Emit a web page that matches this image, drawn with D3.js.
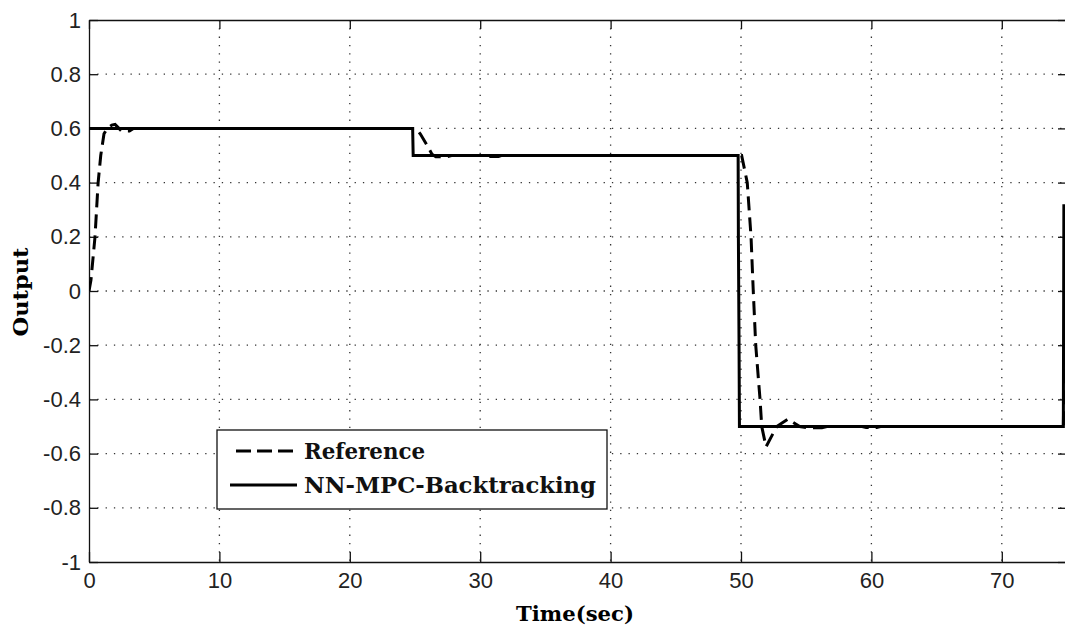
<!DOCTYPE html>
<html>
<head>
<meta charset="utf-8">
<script src="https://cdn.jsdelivr.net/npm/d3@7"></script>
<style>
  html, body { margin: 0; padding: 0; background: #fff; }
  svg { display: block; }
</style>
</head>
<body>
<svg id="chart" width="1065" height="627"></svg>
<script>
// Axis ticks
const xTicks = [0, 10, 20, 30, 40, 50, 60, 70];
const yTicks = [-1, -0.8, -0.6, -0.4, -0.2, 0, 0.2, 0.4, 0.6, 0.8, 1];

// Series: time (s) and output value
const refTime = [0, 0.15, 0.46, 0.7, 0.9, 1.15, 1.4, 1.75, 2.0, 2.3, 2.5, 3.1, 3.4,
  25.1, 25.4, 25.9, 26.3, 26.6, 27.4, 27.8, 30.4, 30.6, 31.4, 31.6,
  50.05, 50.48, 50.77, 50.94, 51.13, 51.46, 51.59, 51.92, 52.3, 52.74, 53.6, 54.5,
  55.1, 56.2, 56.6, 59.3, 59.6, 60.4, 60.7, 74.72, 74.8];
const refValue = [0.0, 0.04, 0.2, 0.4, 0.5, 0.58, 0.6, 0.612, 0.615, 0.6, 0.59, 0.59, 0.6,
  0.6, 0.58, 0.54, 0.505, 0.495, 0.495, 0.5, 0.5, 0.496, 0.496, 0.5,
  0.5, 0.4, 0.2, 0.0, -0.2, -0.4, -0.5, -0.575, -0.54, -0.5, -0.473, -0.5,
  -0.505, -0.505, -0.5, -0.5, -0.504, -0.504, -0.5, -0.5, -0.22];

const mpcTime = [0, 24.82, 24.86, 49.78, 49.8, 49.85, 49.88, 74.72, 74.76];
const mpcValue = [0.6, 0.6, 0.5, 0.5, 0.2, -0.2, -0.5, -0.5, 0.32];

const legendLabels = ["Reference", "NN-MPC-Backtracking"];

const svg = d3.select("#chart");
const plotLeft = 89, plotRight = 1067, plotTop = 20, plotBottom = 562;

const x = d3.scaleLinear().domain([0, 75]).range([plotLeft, plotRight]);
const y = d3.scaleLinear().domain([-1, 1]).range([plotBottom, plotTop]);

const fmt = v => {
  const s = d3.format(".1f")(Math.abs(v)).replace(/\.0$/, "");
  return (v < -1e-9 ? "-" : "") + s;
};

// Dotted grid
const grid = svg.append("g")
  .attr("stroke", "#333")
  .attr("stroke-width", 1.3)
  .attr("stroke-dasharray", "1.3,7");
grid.selectAll("line.gx").data(xTicks.filter(t => t > 0)).join("line")
  .attr("class", "gx")
  .attr("x1", d => x(d)).attr("x2", d => x(d))
  .attr("y1", plotTop).attr("y2", plotBottom);
grid.selectAll("line.gy").data(yTicks.filter(t => t > -1 && t < 1)).join("line")
  .attr("class", "gy")
  .attr("x1", plotLeft).attr("x2", plotRight)
  .attr("y1", d => y(d)).attr("y2", d => y(d));

// Axes with inward ticks
const tickFont = "'Liberation Sans', Arial, sans-serif";
const axB = svg.append("g").attr("transform", `translate(0,${plotBottom})`)
  .call(d3.axisBottom(x).tickValues(xTicks).tickSizeInner(-10).tickSizeOuter(0).tickPadding(10).tickFormat(d3.format("d")));
const axT = svg.append("g").attr("transform", `translate(0,${plotTop})`)
  .call(d3.axisTop(x).tickValues(xTicks).tickSizeInner(-9).tickSizeOuter(0).tickFormat(""));
const axL = svg.append("g").attr("transform", `translate(${plotLeft},0)`)
  .call(d3.axisLeft(y).tickValues(yTicks).tickSizeInner(-9).tickSizeOuter(0).tickPadding(8).tickFormat(fmt));
const axR = svg.append("g").attr("transform", `translate(${plotRight},0)`)
  .call(d3.axisRight(y).tickValues(yTicks).tickSizeInner(-9).tickSizeOuter(0).tickFormat(""));

[axB, axT, axL, axR].forEach(g => {
  g.select(".domain").attr("stroke", "#111").attr("stroke-width", 1.3);
  g.selectAll(".tick line").attr("stroke", "#111").attr("stroke-width", 1.3);
  g.selectAll(".tick text")
    .attr("fill", "#222")
    .style("font-family", tickFont)
    .style("font-size", "22px");
});

// Data lines
svg.append("clipPath").attr("id", "plotClip")
  .append("rect").attr("x", plotLeft).attr("y", plotTop - 2)
  .attr("width", plotRight - plotLeft).attr("height", plotBottom - plotTop + 4);

const line = d3.line().x(d => x(d[0])).y(d => y(d[1]));
const refData = refTime.map((t, i) => [t, refValue[i]]);
const mpcData = mpcTime.map((t, i) => [t, mpcValue[i]]);

const plot = svg.append("g").attr("clip-path", "url(#plotClip)");
plot.append("path").datum(mpcData)
  .attr("d", line).attr("fill", "none")
  .attr("stroke", "#000").attr("stroke-width", 3);
plot.append("path").datum(refData)
  .attr("d", line).attr("fill", "none")
  .attr("stroke", "#000").attr("stroke-width", 3)
  .attr("stroke-dasharray", "14,7");

// Axis labels
const labelFont = "'DejaVu Serif', serif";
svg.append("text")
  .attr("x", 575).attr("y", 621)
  .attr("text-anchor", "middle")
  .attr("textLength", 118).attr("lengthAdjust", "spacingAndGlyphs")
  .style("font-family", labelFont).style("font-weight", "bold").style("font-size", "21px")
  .text("Time(sec)");
svg.append("text")
  .attr("transform", "translate(28,292) rotate(-90)")
  .attr("text-anchor", "middle")
  .attr("textLength", 89).attr("lengthAdjust", "spacingAndGlyphs")
  .style("font-family", labelFont).style("font-weight", "bold").style("font-size", "21px")
  .text("Output");

// Legend
const lg = svg.append("g");
lg.append("rect")
  .attr("x", 217).attr("y", 430).attr("width", 390).attr("height", 79)
  .attr("fill", "#fff").attr("stroke", "#111").attr("stroke-width", 1.3);
const rows = [
  { y: 451, dash: "15,6", x1: 236, w: 121 },
  { y: 485, dash: null, x1: 230, w: 292 }
];
rows.forEach((r, i) => {
  lg.append("line")
    .attr("x1", r.x1).attr("x2", 297).attr("y1", r.y).attr("y2", r.y)
    .attr("stroke", "#000").attr("stroke-width", 3)
    .attr("stroke-dasharray", r.dash);
  lg.append("text")
    .attr("x", 304).attr("y", r.y + 8)
    .attr("textLength", r.w).attr("lengthAdjust", "spacingAndGlyphs")
    .style("font-family", labelFont).style("font-weight", "bold").style("font-size", "21.5px")
    .attr("fill", "#111")
    .text(legendLabels[i]);
});
</script>
</body>
</html>
